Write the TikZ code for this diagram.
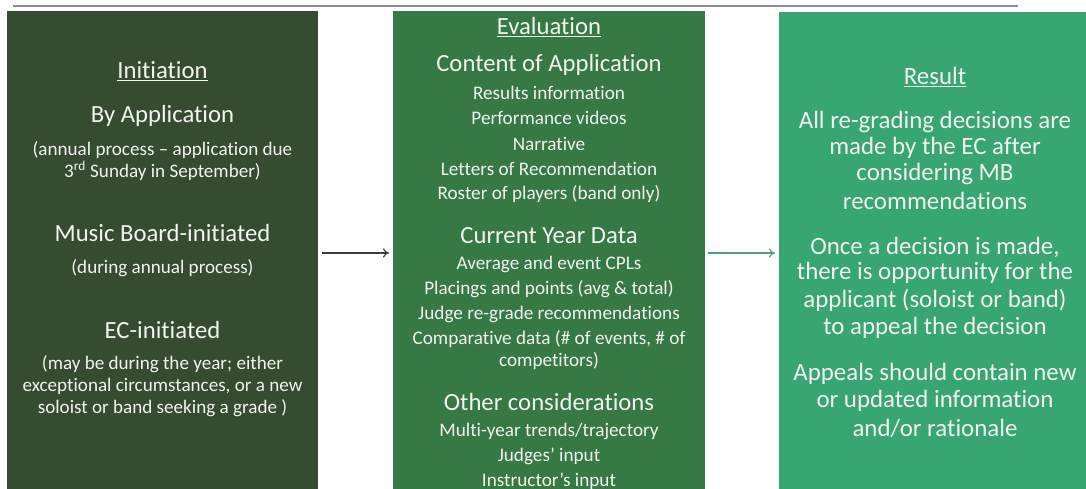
\documentclass[tikz,border=0pt]{standalone}
\usepackage{fontspec}
\setmainfont{Carlito}[Ligatures=NoCommon]
\usetikzlibrary{arrows.meta}
\definecolor{boxA}{RGB}{53,76,48}
\definecolor{boxB}{RGB}{55,121,68}
\definecolor{boxC}{RGB}{56,166,112}
\definecolor{txt}{RGB}{242,244,240}
\definecolor{rulegray}{RGB}{140,140,140}
\definecolor{arrowA}{RGB}{60,60,60}
\definecolor{arrowB}{RGB}{80,158,130}
\tikzset{
  panel/.style={draw=none,rectangle,anchor=north west,inner sep=0pt},
  line/.style={text=txt,inner sep=0pt,anchor=center},
  head/.style={line,font=\fontsize{24.7}{26}\selectfont},
  sub/.style={line,font=\fontsize{19.1}{21}\selectfont},
  mhead/.style={line,font=\fontsize{24.7}{26}\selectfont},
  item/.style={line,font=\fontsize{19.2}{21}\selectfont},
  rtext/.style={line,font=\fontsize{24.9}{26}\selectfont},
  flow/.style={-{To[length=6pt,width=9pt]},line width=1.1pt},
}
\begin{document}
\begin{tikzpicture}[x=1pt,y=-1pt]
\useasboundingbox (0,0) rectangle (1086,489);
\fill[white] (0,0) rectangle (1086,489);
\draw[rulegray,line width=1.2pt] (13,6) -- (1018,6);
% panels
\node[panel,fill=boxA,minimum width=311pt,minimum height=478pt] (pA) at (7,11) {};
\node[panel,fill=boxB,minimum width=312pt,minimum height=478pt] (pB) at (393,11) {};
\node[panel,fill=boxC,minimum width=307pt,minimum height=477pt] (pC) at (779,12) {};
% left texts
\node[head] (a1) at (162.5,71) {\underline{Initiation}};
\node[head] (a2) at (162.5,116) {By Application};
\node[sub] (a3) at (162.5,150) {(annual process – application due};
\node[sub] (a4) at (162.5,171) {3\textsuperscript{rd} Sunday in September)};
\node[head] (a5) at (162.5,233) {Music Board-initiated};
\node[sub] (a6) at (162.5,268) {(during annual process)};
\node[head] (a7) at (162.5,330) {EC-initiated};
\node[sub] (a8) at (162.5,364) {(may be during the year; either};
\node[sub] (a9) at (162.5,386) {exceptional circumstances, or a new};
\node[sub] (a10) at (162.5,408) {soloist or band seeking a grade )};
% middle texts
\node[mhead] (b1) at (549,27) {\underline{Evaluation}};
\node[mhead] (b2) at (549,65) {Content of Application};
\node[item] (b3) at (549,93) {Results information};
\node[item] (b4) at (549,118) {Performance videos};
\node[item] (b5) at (549,144) {Narrative};
\node[item] (b6) at (549,169) {Letters of Recommendation};
\node[item] (b7) at (549,194) {Roster of players (band only)};
\node[mhead] (b8) at (549,236) {Current Year Data};
\node[item] (b9) at (549,264) {Average and event CPLs};
\node[item] (b10) at (549,289) {Placings and points (avg \& total)};
\node[item] (b11) at (549,314) {Judge re-grade recommendations};
\node[item] (b12) at (549,339) {Comparative data (\# of events, \# of};
\node[item] (b13) at (549,361) {competitors)};
\node[mhead] (b14) at (549,402) {Other considerations};
\node[item] (b15) at (549,431) {Multi-year trends/trajectory};
\node[item] (b16) at (549,456) {Judges’ input};
\node[item] (b17) at (549,481) {Instructor’s input};
% right texts
\node[rtext] (c1) at (935,77) {\underline{Result}};
\node[rtext] (c2) at (935,122) {All re-grading decisions are};
\node[rtext] (c3) at (935,148) {made by the EC after};
\node[rtext] (c4) at (935,174) {considering MB};
\node[rtext] (c5) at (935,201) {recommendations};
\node[rtext] (c6) at (935,247) {Once a decision is made,};
\node[rtext] (c7) at (935,273) {there is opportunity for the};
\node[rtext] (c8) at (935,300) {applicant (soloist or band)};
\node[rtext] (c9) at (935,328) {to appeal the decision};
\node[rtext] (c10) at (935,374) {Appeals should contain new};
\node[rtext] (c11) at (935,401) {or updated information};
\node[rtext] (c12) at (935,428) {and/or rationale};
% arrows
\coordinate (aS) at (322,253);
\coordinate (aE) at (389,253);
\coordinate (bS) at (708,253);
\coordinate (bE) at (775,253);
\draw[flow,arrowA] (aS) -- (aE);
\draw[flow,arrowB] (bS) -- (bE);
\end{tikzpicture}
\end{document}
